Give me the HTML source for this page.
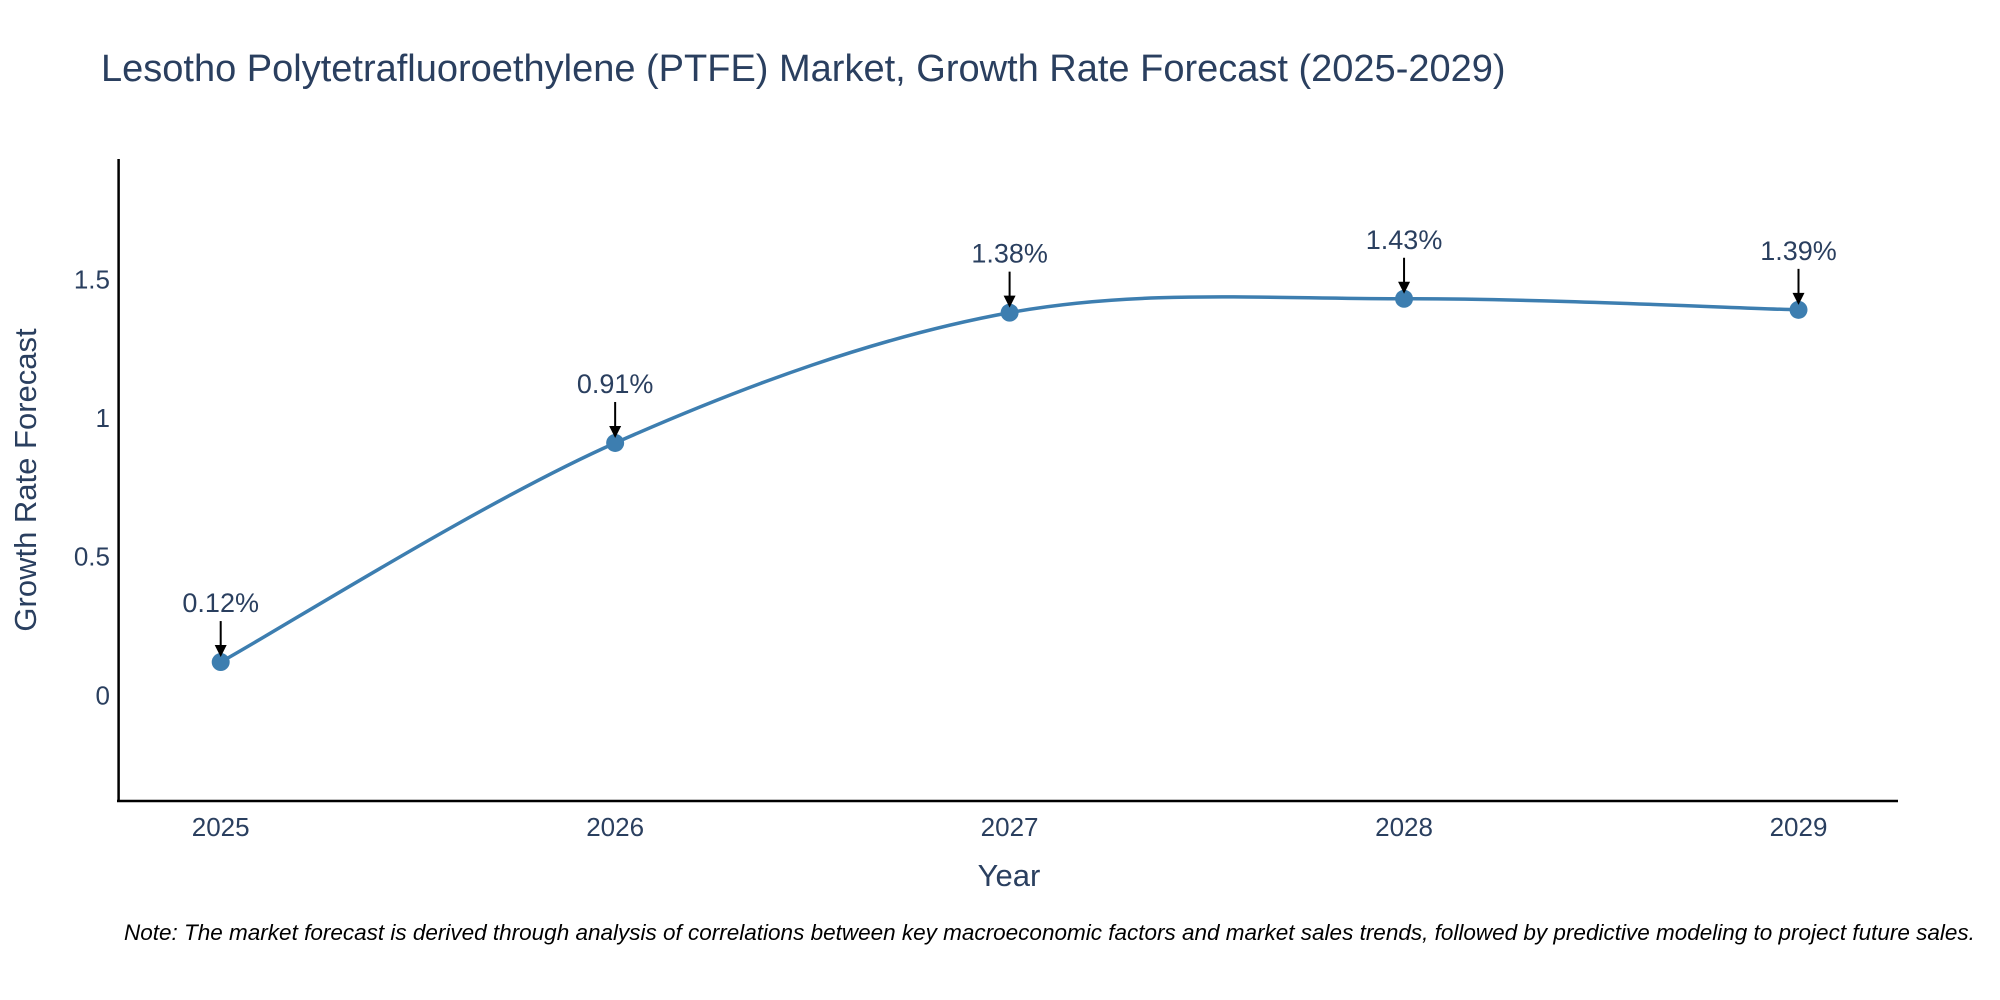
<!DOCTYPE html>
<html><head><meta charset="utf-8"><style>
body{margin:0;background:#fff;}
svg{display:block;font-family:"Liberation Sans",sans-serif;}
</style></head><body>
<svg id="chart" width="2000" height="1000" viewBox="0 0 2000 1000">
<text x="101" y="81" font-size="38" fill="#2a3f5f">Lesotho Polytetrafluoroethylene (PTFE) Market, Growth Rate Forecast (2025-2029)</text>
<g id="yticks"></g><g id="xticks"></g>
<line x1="118.6" y1="159" x2="118.6" y2="802" stroke="#000" stroke-width="2.5"/>
<line x1="117" y1="801" x2="1898" y2="801" stroke="#000" stroke-width="2.5"/>
<text transform="translate(36,480) rotate(-90)" text-anchor="middle" font-size="31" fill="#2a3f5f">Growth Rate Forecast</text>
<text x="1009" y="886" text-anchor="middle" font-size="31" fill="#2a3f5f">Year</text>
<g id="series"></g>
<text x="124" y="940" font-size="22.5" font-style="italic" fill="#000">Note: The market forecast is derived through analysis of correlations between key macroeconomic factors and market sales trends, followed by predictive modeling to project future sales.</text>
</svg>
<script>
const years = ["2025","2026","2027","2028","2029"];
const growth = [0.12, 0.91, 1.38, 1.43, 1.39];
const labels = ["0.12%","0.91%","1.38%","1.43%","1.39%"];
const yTickVals = [0, 0.5, 1, 1.5];
const yTickText = ["0","0.5","1","1.5"];

const NS="http://www.w3.org/2000/svg";
const x0=220.7, x1=1798.5, yMin=-0.381, yMax=1.934, plotTop=159, plotBot=801;
function xs(i){return x0+(x1-x0)*i/(years.length-1);}
function ys(v){return plotBot-(v-yMin)/(yMax-yMin)*(plotBot-plotTop);}
function mk(tag,attrs,parent){const e=document.createElementNS(NS,tag);for(const k in attrs)e.setAttribute(k,attrs[k]);parent.appendChild(e);return e;}
const yt=document.getElementById('yticks');
yTickVals.forEach((v,i)=>{
  const t=mk('text',{x:110,y:ys(v)+9,'text-anchor':'end','font-size':26,fill:'#2a3f5f'},yt);
  
  
  t.textContent=yTickText[i];
});
const xt=document.getElementById('xticks');
years.forEach((y,i)=>{
  const t=mk('text',{x:xs(i),y:836,'text-anchor':'middle','font-size':26,fill:'#2a3f5f'},xt);
  
  
  t.textContent=y;
});
const g=document.getElementById('series');
const pts=growth.map((v,i)=>[xs(i),ys(v)]);
let d=`M${pts[0][0]},${pts[0][1]}`;
for(let i=0;i<pts.length-1;i++){
  const p0=pts[Math.max(i-1,0)],p1=pts[i],p2=pts[i+1],p3=pts[Math.min(i+2,pts.length-1)];
  const c1=[p1[0]+(p2[0]-p0[0])/6,p1[1]+(p2[1]-p0[1])/6];
  const c2=[p2[0]-(p3[0]-p1[0])/6,p2[1]-(p3[1]-p1[1])/6];
  d+=` C${c1[0]},${c1[1]} ${c2[0]},${c2[1]} ${p2[0]},${p2[1]}`;
}
const line=mk('path',{d:d,fill:'none',stroke:'#3d7eb0','stroke-width':3.5},g);


pts.forEach((p,i)=>{
  const c=mk('circle',{cx:p[0],cy:p[1],r:9,fill:'#3d7eb0'},g);
  
  
  const a=mk('line',{x1:p[0],y1:p[1]-41,x2:p[0],y2:p[1]-14,stroke:'#000','stroke-width':2},g);
  
  
  const h=mk('polygon',{points:`${p[0]-6},${p[1]-17} ${p[0]+6},${p[1]-17} ${p[0]},${p[1]-5}`,fill:'#000'},g);
  
  
  const t=mk('text',{x:p[0],y:p[1]-50,'text-anchor':'middle','font-size':27,fill:'#2a3f5f'},g);
  
  
  t.textContent=labels[i];
});
</script>
</body></html>
